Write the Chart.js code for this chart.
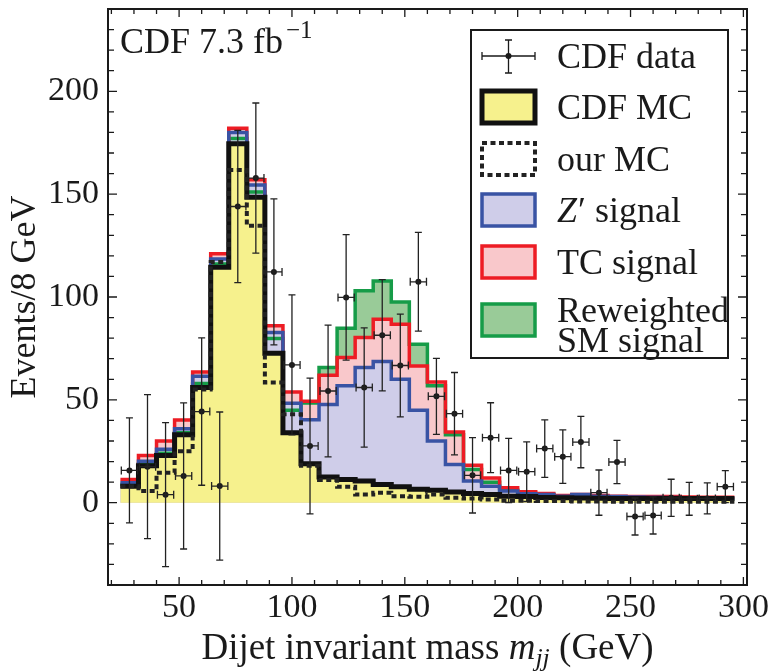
<!DOCTYPE html>
<html lang="en">
<head>
<meta charset="utf-8">
<script src="https://cdn.jsdelivr.net/npm/chart.js@4.4.1/dist/chart.umd.min.js"></script>
<title>Dijet invariant mass</title>
<style>
  html, body { margin: 0; padding: 0; background: #fff; }
</style>
</head>
<body>
<canvas id="mjj" width="768" height="671"></canvas>
<script>
// 8 GeV bins, left edges plus the last right edge
const binEdges = [24, 32, 40, 48, 56, 64, 72, 80, 88, 96, 104, 112, 120, 128, 136, 144, 152, 160,
                  168, 176, 184, 192, 200, 208, 216, 224, 232, 240, 248, 256, 264, 272, 280, 288, 296];
const binCenters = [28, 36, 44, 52, 60, 68, 76, 84, 92, 100, 108, 116, 124, 132, 140, 148, 156,
                    164, 172, 180, 188, 196, 204, 212, 220, 228, 236, 244, 252, 260, 268, 276, 284, 292];

// histograms (events / 8 GeV), one value per bin
const cdfMC    = [8, 18, 23, 33, 56, 114.5, 174.5, 148.5, 72.6, 34, 19, 12.5, 11.3, 10.5, 8.9, 7.8, 6.5,
                  6.1, 5.2, 4.5, 4, 3.2, 3, 2.5, 2.4, 2.3, 2.2, 2.1, 2, 2, 2, 2, 2, 2];
const ourMC    = [8, 5.7, 14.6, 25, 55, 117, 161.7, 134.6, 58.4, 43, 18, 11, 7.8, 4, 4.9, 3.2, 2.9,
                  4, 2.4, 2, 1.6, 1, 1, 0.8, 0.8, 0.6, 0.6, 0.5, 0.5, 0.5, 0.5, 0.5, 0.5, 0.5];
const zpSignal = [9.7, 20.2, 26, 36, 61.5, 118.5, 180, 154.4, 82.7, 48.3, 40.3, 47.8, 56.8, 65.7, 68.6, 60, 45,
                  30, 18.6, 10.5, 8, 5.7, 4.4, 4, 3.2, 4, 3.2, 3, 2.8, 2.6, 2.5, 2.4, 2.3, 2.2];
const tcSignal = [11.3, 23, 30, 40.2, 63.5, 121, 182, 157, 86, 53.8, 49.3, 62, 70.6, 80.3, 89.2, 86.8, 66.5,
                  58.7, 34.4, 18.2, 12, 7.3, 5.3, 4.5, 3.5, 4, 3.5, 3.2, 3, 3, 3, 2.8, 2.7, 2.6];
const smSignal = [9, 19, 24, 34, 58, 116, 177, 151, 79.8, 45, 48.5, 65.7, 84.8, 103, 107.8, 97.6, 77,
                  56.8, 33, 16.2, 10, 6, 4.5, 4, 3.2, 3.5, 3, 2.8, 2.5, 2.4, 2.3, 2.2, 2.2, 2.1];

// CDF data points and their errors
const cdfData = [15.7, 17.5, 3.9, 13, 44.3, 8.1, 144, 157.8, 112.2, 67, 27.6, 54.3, 99.8, 56, 81.4, 66.7, 107.4,
                 51.7, 43.3, 13.3, 31.6, 15.7, 15.1, 26.3, 22.4, 29.5, 4.9, 19.8, -6.7, -6.2, 2.4, 1.9, 2.1, 7.8];
const cdfErr  = [25.5, 35, 35, 35.5, 35.8, 36, 37, 36.5, 35.5, 34, 33, 32, 30.5, 29, 27, 25, 24,
                 18.5, 20, 18.3, 17, 15.6, 14.5, 14, 13, 12.5, 11, 10.5, 9, 9, 9, 8, 7.5, 7.8];

const xTicks = [50, 100, 150, 200, 250, 300];
const yTicks = [0, 50, 100, 150, 200];

const SERIF = '"Liberation Serif", "Times New Roman", serif';
const INK = '#1a1a1a';
const DASH = [5, 3.5];

// step outline: value of bin i held from edge i to edge i+1
function steps(vals) {
  return binEdges.map((e, i) => ({ x: e, y: vals[Math.min(i, vals.length - 1)] }));
}

function histo(label, vals, line, fill, width, dash) {
  return {
    label: label,
    data: steps(vals),
    stepped: true,
    borderColor: line,
    backgroundColor: fill || 'transparent',
    fill: fill ? 'origin' : false,
    borderWidth: width,
    borderDash: dash || [],
    borderJoinStyle: 'miter',
    borderCapStyle: 'butt',
    pointRadius: 0
  };
}

// error bars on the data points
const errorBars = {
  id: 'errorBars',
  afterDatasetsDraw(chart) {
    const { ctx, scales: { x, y } } = chart;
    ctx.save();
    ctx.strokeStyle = '#222';
    ctx.lineWidth = 1.3;
    binCenters.forEach((c, i) => {
      const px = x.getPixelForValue(c);
      const py = y.getPixelForValue(cdfData[i]);
      const x0 = x.getPixelForValue(c - 3.6), x1 = x.getPixelForValue(c + 3.6);
      const yt = y.getPixelForValue(cdfData[i] + cdfErr[i]);
      const yb = y.getPixelForValue(cdfData[i] - cdfErr[i]);
      ctx.beginPath();
      ctx.moveTo(x0, py); ctx.lineTo(x1, py);
      ctx.moveTo(x0, py - 4); ctx.lineTo(x0, py + 4);
      ctx.moveTo(x1, py - 4); ctx.lineTo(x1, py + 4);
      ctx.moveTo(px, yt); ctx.lineTo(px, yb);
      ctx.moveTo(px - 3.5, yt); ctx.lineTo(px + 3.5, yt);
      ctx.moveTo(px - 3.5, yb); ctx.lineTo(px + 3.5, yb);
      ctx.stroke();
    });
    ctx.restore();
  }
};

// box frame with inward ticks on all four sides
const frame = {
  id: 'frame',
  afterDraw(chart) {
    const { ctx, chartArea: a, scales: { x, y } } = chart;
    ctx.save();
    ctx.strokeStyle = INK;
    ctx.lineWidth = 1.3;
    ctx.beginPath();
    for (let v = 20; v <= 300; v += 10) {
      const p = x.getPixelForValue(v), len = v % 50 === 0 ? 8 : 5;
      ctx.moveTo(p, a.bottom); ctx.lineTo(p, a.bottom - len);
      ctx.moveTo(p, a.top); ctx.lineTo(p, a.top + len);
    }
    for (let v = -30; v <= 230; v += 10) {
      const p = y.getPixelForValue(v), len = v % 50 === 0 ? 9 : 6;
      ctx.moveTo(a.left, p); ctx.lineTo(a.left + len, p);
      ctx.moveTo(a.right, p); ctx.lineTo(a.right - len, p);
    }
    ctx.stroke();
    ctx.lineWidth = 2;
    ctx.strokeRect(a.left, a.top, a.right - a.left, a.bottom - a.top);
    ctx.restore();
  }
};

// texts with italics / sub- and superscripts, and the legend box
const labels = {
  id: 'labels',
  afterDraw(chart) {
    const ctx = chart.ctx, a = chart.chartArea;
    const f = (s, it) => (it ? 'italic ' : '') + s + 'px ' + SERIF;
    ctx.save();
    ctx.fillStyle = INK;
    ctx.textBaseline = 'alphabetic';
    ctx.textAlign = 'left';

    // luminosity
    ctx.font = f(36);
    ctx.fillText('CDF 7.3 fb', 120, 53);
    let w = ctx.measureText('CDF 7.3 fb').width;
    ctx.font = f(25);
    ctx.fillText('\u22121', 120 + w + 3, 38);

    // x axis title
    const parts = [['Dijet invariant mass ', 37, false, 0], ['m', 37, true, 0],
                   ['jj', 26, true, 7], [' (GeV)', 37, false, 0]];
    let total = 0;
    parts.forEach(p => { ctx.font = f(p[1], p[2]); total += ctx.measureText(p[0]).width; });
    let tx = (a.left + a.right) / 2 - total / 2;
    parts.forEach(p => {
      ctx.font = f(p[1], p[2]);
      ctx.fillText(p[0], tx, 659 + p[3]);
      tx += ctx.measureText(p[0]).width;
    });

    // legend
    const L = 471, T = 30, R = 728, B = 358;
    ctx.fillStyle = '#fff';
    ctx.fillRect(L, T, R - L, B - T);
    ctx.strokeStyle = INK;
    ctx.lineWidth = 2;
    ctx.strokeRect(L, T, R - L, B - T);

    const sx0 = 482, sx1 = 535, tX = 557;
    // data symbol
    ctx.lineWidth = 1.3;
    ctx.beginPath();
    ctx.moveTo(sx0, 56); ctx.lineTo(sx1, 56);
    ctx.moveTo(sx0, 52); ctx.lineTo(sx0, 60);
    ctx.moveTo(sx1, 52); ctx.lineTo(sx1, 60);
    ctx.moveTo(508.5, 40); ctx.lineTo(508.5, 73);
    ctx.moveTo(505, 40); ctx.lineTo(512, 40);
    ctx.moveTo(505, 73); ctx.lineTo(512, 73);
    ctx.stroke();
    ctx.fillStyle = INK;
    ctx.beginPath(); ctx.arc(508.5, 56, 3, 0, Math.PI * 2); ctx.fill();

    const sw = [
      [107, '#f6f18d', '#111111', 5, null],
      [159, '#ffffff', '#222222', 4, DASH],
      [210, '#cfcde9', '#3953a4', 3.5, null],
      [262, '#f9c8cb', '#ed1c24', 3.5, null],
      [320, '#99cb98', '#169c48', 3.5, null]
    ];
    sw.forEach(s => {
      ctx.fillStyle = s[1];
      ctx.fillRect(sx0, s[0] - 16, sx1 - sx0, 32);
      ctx.strokeStyle = s[2];
      ctx.lineWidth = s[3];
      ctx.setLineDash(s[4] || []);
      ctx.strokeRect(sx0, s[0] - 16, sx1 - sx0, 32);
    });
    ctx.setLineDash([]);

    ctx.fillStyle = INK;
    ctx.font = f(36);
    ctx.fillText('CDF data', tX, 68);
    ctx.fillText('CDF MC', tX, 119);
    ctx.fillText('our MC', tX, 171);
    ctx.font = f(36, true);
    ctx.fillText('Z', tX, 222);
    w = ctx.measureText('Z').width;
    ctx.font = f(36);
    ctx.fillText('\u2032 signal', tX + w + 1, 222);
    ctx.fillText('TC signal', tX, 274);
    ctx.fillText('Reweighted', tX, 322);
    ctx.fillText('SM signal', tX, 352);
    ctx.restore();
  }
};

const dataPoints = {
  label: 'CDF data',
  data: binCenters.map((c, i) => ({ x: c, y: cdfData[i] })),
  showLine: false,
  pointRadius: 3,
  pointBackgroundColor: INK,
  pointBorderColor: INK,
  pointBorderWidth: 0
};

new Chart(document.getElementById('mjj'), {
  type: 'line',
  data: {
    datasets: [
      dataPoints,
      histo('our MC', ourMC, '#222222', null, 4, DASH),
      histo('CDF MC', cdfMC, '#111111', '#f6f18d', 5),
      histo('Z\u2032 signal', zpSignal, '#3953a4', '#cfcde9', 3.5),
      histo('TC signal', tcSignal, '#ed1c24', '#f9c8cb', 3.5),
      histo('Reweighted SM signal', smSignal, '#169c48', '#99cb98', 3.5)
    ]
  },
  options: {
    responsive: false,
    animation: false,
    devicePixelRatio: 1,
    layout: { autoPadding: false, padding: { top: 9, right: 21, bottom: 0, left: 0 } },
    plugins: {
      legend: { display: false },
      tooltip: { enabled: false },
      filler: { drawTime: 'beforeDatasetsDraw' }
    },
    scales: {
      x: {
        type: 'linear',
        min: 18.5,
        max: 301.6,
        afterBuildTicks: s => { s.ticks = xTicks.map(v => ({ value: v })); },
        afterFit: s => { s.height = 86; s.paddingLeft = 0; s.paddingRight = 0; },
        grid: { display: false, drawTicks: false },
        border: { display: false },
        ticks: { color: INK, padding: 3, font: { family: SERIF, size: 34 } }
      },
      y: {
        type: 'linear',
        min: -40,
        max: 240,
        afterBuildTicks: s => { s.ticks = yTicks.map(v => ({ value: v })); },
        afterFit: s => { s.width = 108; s.paddingTop = 0; s.paddingBottom = 0; },
        grid: { display: false, drawTicks: false },
        border: { display: false },
        ticks: { color: INK, padding: 9, font: { family: SERIF, size: 34 } },
        title: {
          display: true,
          text: 'Events/8 GeV',
          color: INK,
          padding: { top: 4, bottom: 0 },
          font: { family: SERIF, size: 36 }
        }
      }
    }
  },
  plugins: [errorBars, frame, labels]
});
</script>
</body>
</html>
